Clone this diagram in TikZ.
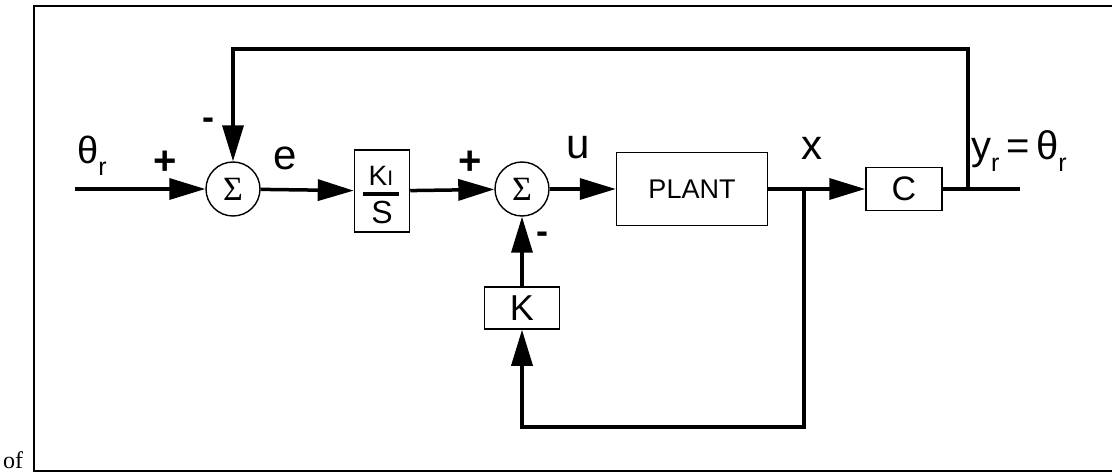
\documentclass[tikz,border=0pt]{standalone}
\usepackage{fontspec}
\setmainfont{Liberation Sans}
\newfontfamily\symfont{Liberation Serif}
\usetikzlibrary{arrows.meta,positioning}
\newcommand{\sz}[1]{\fontsize{#1}{#1}\selectfont}
\newcommand{\lowr}{\raisebox{-12pt}{\sz{25}r}}

\begin{document}
\begin{tikzpicture}[x=1pt,y=-1pt,>={Triangle[length=36pt,width=21pt]},
  sig/.style={line width=3.5pt},
  blk/.style={draw,line width=1.5pt,inner sep=0pt},
  sumnode/.style={draw,circle,line width=1.4pt,minimum size=54pt,inner sep=0pt,font=\symfont\sz{34}},
  lbl/.style={inner sep=0pt,font=\sz{42}},
  sgn/.style={inner sep=0pt,font=\bfseries\sz{40}}]
\useasboundingbox (0,0) rectangle (1112,473);
% frame
\draw[line width=2pt] (1112,6) -- (34,6) -- (34,471) -- (1112,471);
\node[font=\symfont\sz{24},inner sep=0pt,anchor=base west] (of) at (3,468) {of};

% blocks
\coordinate (in) at (75,189);
\node[sumnode] (sumA) at (233,189) {Σ};
\node[blk,minimum width=55pt,minimum height=82pt] (ki) at (382,191) {};
\node[inner sep=0pt,anchor=base,font=\sz{28}] (kinum) at (381,186) {K\sz{21}I};
\node[inner sep=0pt,anchor=base,font=\sz{32}] (kiden) at (382,224) {S};
\draw[line width=4pt] (363,194) -- (399,194);
\node[sumnode] (sumB) at (522,189) {Σ};
\node[blk,minimum width=151pt,minimum height=73pt,font=\sz{27}] (plant) at (692,189) {PLANT};
\coordinate (br) at (804,189);
\node[blk,minimum width=76pt,minimum height=43pt,font=\sz{34}] (cblk) at (904,189) {C};
\coordinate (tap) at (968,189);
\coordinate (out) at (1020,189);
\node[blk,minimum width=75pt,minimum height=42pt,font=\sz{36}] (kblk) at (522,308) {K};
\coordinate (ftop) at (968,49);
\coordinate (fbot) at (804,427);

% signals
\draw[sig,->] (in) -- (sumA);
\draw[sig,->] (sumA) -- (ki);
\draw[sig,->] (ki) -- (sumB);
\draw[sig,->] (sumB) -- (plant);
\draw[sig] (plant) -- (br);
\draw[sig,->] (br) -- (cblk);
\draw[sig] (cblk) -- (tap) -- (out);
\draw[sig,->] (tap) -- (ftop) -| (sumA);
\draw[sig,->] (br) -- (fbot) -| (kblk);
\draw[sig,->] (kblk) -- (sumB);

% labels
\node[lbl,font=\sz{38}] (thr) at (92,156) {θ\lowr};
\node[sgn] (pA) at (165,163) {+};
\node[sgn,font=\bfseries\sz{36}] (mA) at (208,124) {-};
\node[lbl] (e) at (285,158) {e};
\node[sgn] (pB) at (470,163) {+};
\node[lbl] (u) at (578,148) {u};
\node[sgn,font=\bfseries\sz{36}] (mB) at (542,238) {-};
\node[lbl] (x) at (812,148) {x};
\node[lbl,anchor=west,font=\sz{40}] (yr) at (971,151) {y\lowr\,=\,θ\lowr};
\end{tikzpicture}
\end{document}
